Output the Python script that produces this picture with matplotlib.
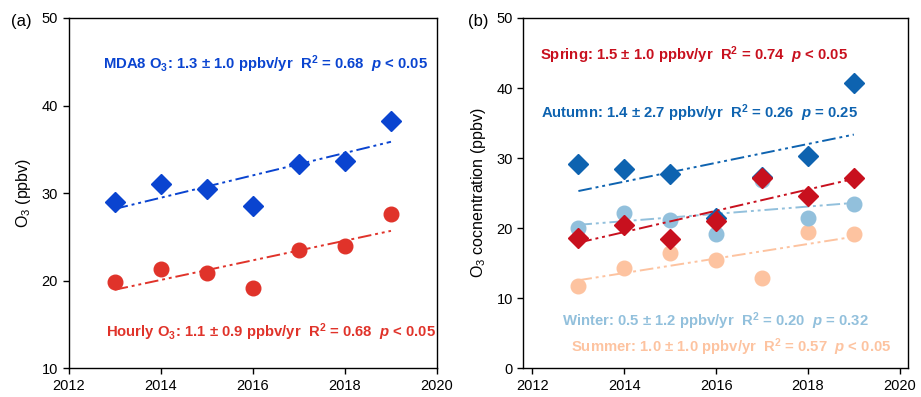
import numpy as np
import matplotlib.pyplot as plt

plt.rcParams['font.family'] = ['Liberation Sans', 'DejaVu Sans']
plt.rcParams['mathtext.fontset'] = 'custom'
plt.rcParams['mathtext.rm'] = 'Liberation Sans'
plt.rcParams['mathtext.it'] = 'Liberation Sans:italic'
plt.rcParams['mathtext.bf'] = 'Liberation Sans:bold'
plt.rcParams['mathtext.bfit'] = 'Liberation Sans:bold:italic'

years = np.array([2013, 2014, 2015, 2016, 2017, 2018, 2019])

# annual mean O3 (ppbv)
mda8 = [29.0, 31.0, 30.5, 28.5, 33.3, 33.7, 38.2]
hourly = [19.8, 21.3, 20.9, 19.2, 23.5, 24.0, 27.6]

# seasonal mean O3 (ppbv)
spring = [18.6, 20.5, 18.4, 21.0, 27.2, 24.6, 27.1]
summer = [11.8, 14.3, 16.5, 15.5, 12.9, 19.5, 19.2]
autumn = [29.2, 28.5, 27.8, 21.5, 27.3, 30.3, 40.7]
winter = [20.0, 22.2, 21.1, 19.2, 26.9, 21.5, 23.4]

DASH = (0, (7, 2, 1.5, 2, 1.5, 2))


def plot_series(ax, y, color, marker, ms, z):
    ax.plot(years, y, linestyle='none', marker=marker, ms=ms, color=color,
            mec=color, zorder=z)
    k, b = np.polyfit(years, y, 1)
    ax.plot(years[[0, -1]], k * years[[0, -1]] + b, color=color, lw=1.4,
            linestyle=DASH, zorder=z - 0.5)


def style_axes(ax):
    for s in ax.spines.values():
        s.set_linewidth(1.0)
    ax.tick_params(direction='out', length=4, width=1.0, labelsize=10.5,
                   top=False, right=False)
    ax.set_xticks([2012, 2014, 2016, 2018, 2020])


def stat_text(ax, x, y, name, rate, r2, p, color):
    ax.text(x, y, name + ': ' + rate + r' ppbv/yr  R$^{\mathbf{2}}$ = ' + r2
            + '  ' + r'$\bfit{p}$ ' + p, color=color, fontsize=10.7,
            fontweight='bold', transform=ax.transAxes, ha='center', va='center')


fig = plt.figure(figsize=(9.21, 3.97), dpi=100)

# (a) MDA8 and hourly O3
ax1 = fig.add_axes([0.0744, 0.0723, 0.4001, 0.8824])
plot_series(ax1, mda8, '#0a44d0', 'D', 10.5, 4)
plot_series(ax1, hourly, '#e0332a', 'o', 10.5, 4)
ax1.set_xlim(2012, 2020)
ax1.set_ylim(10, 50)
ax1.set_yticks([10, 20, 30, 40, 50])
ax1.set_ylabel(r'O$_3$ (ppbv)', fontsize=11.5, labelpad=6)
style_axes(ax1)
stat_text(ax1, 0.535, 0.868, r'MDA8 O$_\mathbf{3}$', '1.3 ± 1.0', '0.68', '< 0.05', '#0a44d0')
stat_text(ax1, 0.55, 0.102, r'Hourly O$_\mathbf{3}$', '1.1 ± 0.9', '0.68', '< 0.05', '#e0332a')
fig.text(0.012, 0.935, '(a)', fontsize=12)

# (b) seasonal O3
ax2 = fig.add_axes([0.5682, 0.0723, 0.4177, 0.8824])
plot_series(ax2, summer, '#fdc3a0', 'o', 10.5, 3)
plot_series(ax2, winter, '#92c0dc', 'o', 10.5, 4)
plot_series(ax2, autumn, '#0e63b0', 'D', 10.5, 5)
plot_series(ax2, spring, '#c8101e', 'D', 10.5, 6)
ax2.set_xlim(2011.8, 2020.18)
ax2.set_ylim(0, 50)
ax2.set_yticks([0, 10, 20, 30, 40, 50])
ax2.set_ylabel(r'O$_3$ cocnentration (ppbv)', fontsize=11.5, labelpad=6)
style_axes(ax2)
stat_text(ax2, 0.443, 0.895, 'Spring', '1.5 ± 1.0', '0.74', '< 0.05', '#c8101e')
stat_text(ax2, 0.458, 0.727, 'Autumn', '1.4 ± 2.7', '0.26', '= 0.25', '#0e63b0')
stat_text(ax2, 0.5, 0.134, 'Winter', '0.5 ± 1.2', '0.20', '= 0.32', '#92c0dc')
stat_text(ax2, 0.54, 0.06, 'Summer', '1.0 ± 1.0', '0.57', '< 0.05', '#fdc3a0')
fig.text(0.508, 0.935, '(b)', fontsize=12)

fig.savefig('out.png', dpi=100)
